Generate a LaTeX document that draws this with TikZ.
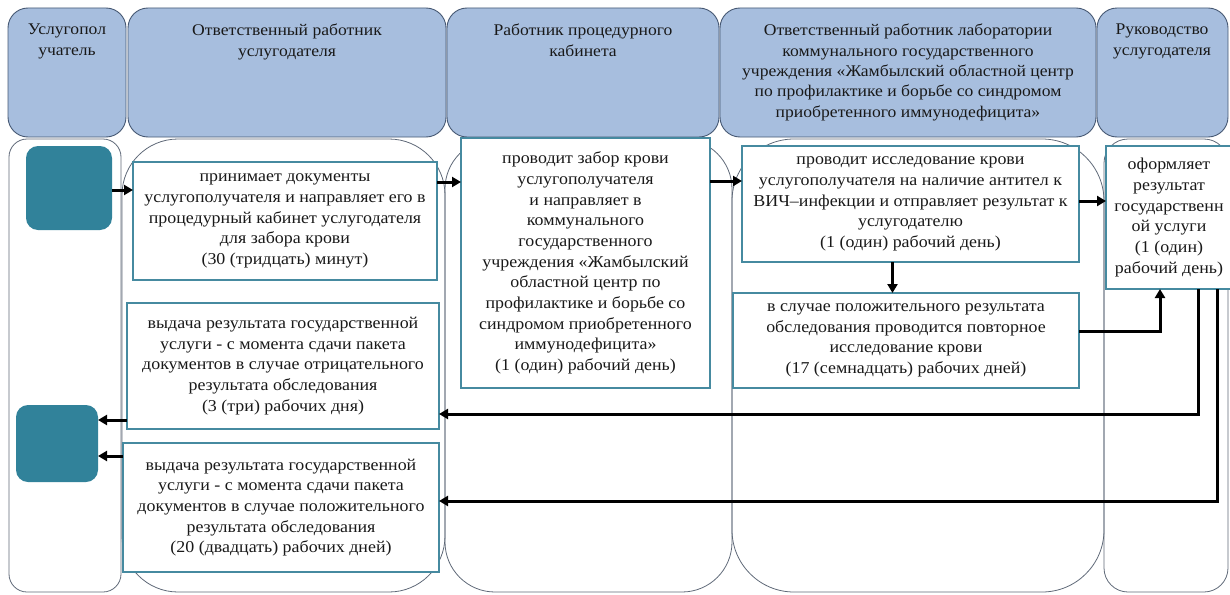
\documentclass[tikz,border=0pt]{standalone}
\usepackage{fontspec}
\setmainfont{Liberation Serif}[FakeStretch=1.08]
\usetikzlibrary{arrows.meta,calc}
\definecolor{hdrfill}{RGB}{167,190,222}
\definecolor{hdrdraw}{RGB}{70,88,115}
\definecolor{laneline}{RGB}{95,105,120}
\definecolor{boxline}{RGB}{70,138,160}
\definecolor{tealfill}{RGB}{49,130,154}
\definecolor{txt}{RGB}{25,25,25}
\tikzset{
  hdr/.style={draw=hdrdraw, fill=hdrfill, line width=0.9pt, rounded corners=20pt},
  hdrtext/.style={anchor=north, align=center, inner sep=0pt, text=txt, font=\fontsize{16.3}{20.3}\selectfont},
  lane/.style={draw=laneline, line width=0.8pt},
  stepbox/.style={draw=boxline, fill=white, line width=2.8pt, align=center, inner sep=0pt, outer sep=0pt,
     text=txt, font=\fontsize{16.6}{20.7}\selectfont},
  term/.style={fill=tealfill, rounded corners=12pt, inner sep=0pt, outer sep=0pt},
  arr/.style={draw=black, line width=3pt, -{Triangle[length=9pt,width=10pt]}},
}
\newcommand{\boxat}[6]{% name, x1, y1, x2, y2, text
  \node[stepbox, minimum width={#4-#2}, minimum height={#5-#3}] (#1) at ({(#2+#4)/2},{(#3+#5)/2}) {#6};}
\begin{document}
\begin{tikzpicture}[x=1pt,y=-1pt]
\useasboundingbox (0,0) rectangle (1230,594);
% headers
\draw[hdr] (8,8) rectangle (126,137);
\draw[hdr] (128,8) rectangle (446,137);
\draw[hdr] (447,8) rectangle (719,137);
\draw[hdr] (720,8) rectangle (1096,137);
\draw[hdr] (1097,8) rectangle (1228,137);
\node[hdrtext] (h1) at (67,24) {Услугопол\\учатель};
\node[hdrtext] (h2) at (287,24) {Ответственный работник\\услугодателя};
\node[hdrtext] (h3) at (583,24) {Работник процедурного\\кабинета};
\node[hdrtext] (h4) at (908,24) {Ответственный работник лаборатории\\коммунального государственного\\учреждения «Жамбылский областной центр\\по профилактике и борьбе со синдромом\\приобретенного иммунодефицита»};
\node[hdrtext] (h5) at (1162,24) {Руководство\\услугодателя};
% lanes
\draw[lane, rounded corners=18pt] (9,139) rectangle (121,592);
\draw[lane, rounded corners=56pt] (122,139) rectangle (445,592);
\draw[lane, rounded corners=50pt] (445,139) rectangle (732,592);
\draw[lane, rounded corners=62pt] (732,139) rectangle (1104,592);
\draw[lane, rounded corners=24pt] (1104,139) rectangle (1228,592);
% terminals
\node[term, minimum width=86pt, minimum height=84pt] (start) at (69,188) {};
\node[term, minimum width=82pt, minimum height=77pt] (end) at (57,443.5) {};
% steps
\boxat{A}{133}{162}{437}{280}{принимает документы\\услугополучателя и направляет его в\\процедурный кабинет услугодателя\\для забора крови\\(30 (тридцать) минут)}
\boxat{B}{461}{138}{710}{388}{\fontsize{16.6}{19.6}\selectfont проводит забор крови\\услугополучателя\\и направляет в\\коммунального\\государственного\\учреждения «Жамбылский\\областной центр по\\профилактике и борьбе со\\синдромом приобретенного\\иммунодефицита»\\(1 (один) рабочий день)}
\boxat{C}{742}{146}{1079}{262}{проводит исследование крови\\услугополучателя на наличие антител к\\ВИЧ–инфекции и отправляет результат к\\услугодателю\\(1 (один) рабочий день)}
\boxat{D}{733}{293}{1079}{388}{в случае положительного результата\\обследования проводится повторное\\исследование крови\\(17 (семнадцать) рабочих дней)}
\boxat{E}{1106}{146}{1232}{289}{оформляет\\результат\\государственн\\ой услуги\\(1 (один)\\рабочий день)}
\boxat{F}{127}{303}{439}{429}{выдача результата государственной\\услуги - с момента сдачи пакета\\документов в случае отрицательного\\результата обследования\\(3 (три) рабочих дня)}
\boxat{G}{123}{443}{439}{572}{выдача результата государственной\\услуги - с момента сдачи пакета\\документов в случае положительного\\результата обследования\\(20 (двадцать) рабочих дней)}
% arrows
\draw[arr] ([yshift=-2pt]start.east) -- ([yshift=-2pt]start.east -| A.west);
\draw[arr] ([yshift=-20pt]A.north east) -- ([yshift=-20pt]A.north east -| B.west);
\draw[arr] ([yshift=-43pt]B.north east) -- ([yshift=-43pt]B.north east -| C.west);
\draw[arr] ([yshift=3pt]C.east) -- ([yshift=3pt]C.east -| E.west);
\draw[arr] ([xshift=-18pt]C.south) -- ([xshift=-18pt]C.south |- D.north);
\draw[arr] ([yshift=9pt]D.east) -| ([xshift=-9pt]E.south);
\draw[arr] ([xshift=29pt]E.south) |- ([yshift=-48pt]F.east);
\draw[arr] ([xshift=48pt]E.south) |- ([yshift=6.5pt]G.east);
\draw[arr] ([yshift=-54pt]F.west) -- ([yshift=-54pt]F.west -| end.east);
\draw[arr] ([yshift=51.5pt]G.west) -- ([yshift=51.5pt]G.west -| end.east);
\end{tikzpicture}
\end{document}
